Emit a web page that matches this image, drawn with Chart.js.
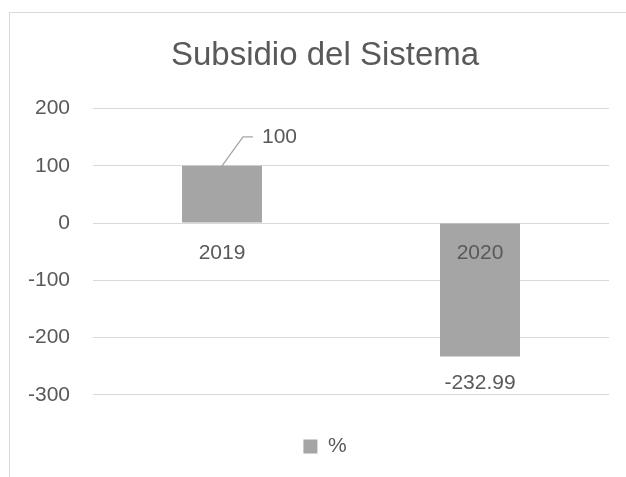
<!DOCTYPE html>
<html>
<head>
<meta charset="utf-8">
<script src="https://cdn.jsdelivr.net/npm/chart.js@4"></script>
<style>
  html, body { margin: 0; padding: 0; background: #ffffff; }
  #wrap { width: 626px; height: 477px; position: relative; }
</style>
</head>
<body>
<div id="wrap"><canvas id="c" width="626" height="477"></canvas></div>
<script>
const categories = ['2019', '2020'];
const seriesName = '%';
const values = [100, -232.99];
const valueLabels = ['100', '-232.99'];
const yMin = -300, yMax = 200, yStep = 100;

const FONT = "'Liberation Sans', Arial, sans-serif";
const TXT = '#595959';
const GRID = '#d9d9d9';
const BAR = '#a5a5a5';

const framePlugin = {
  id: 'frame',
  afterLayout(chart) {
    // the original chart frame extends beyond the visible crop on the right,
    // so its title and legend are centred a little to the right
    if (chart.titleBlock) chart.titleBlock.left += 31;
    if (chart.legend) chart.legend.left += 31;
  },
  beforeDraw(chart) {
    const ctx = chart.ctx;
    ctx.save();
    ctx.fillStyle = '#ffffff';
    ctx.fillRect(0, 0, chart.width, chart.height);
    ctx.strokeStyle = GRID;
    ctx.lineWidth = 1;
    ctx.strokeRect(9.5, 12.5, 800, 800);
    ctx.restore();
  }
};

const labelPlugin = {
  id: 'valueLabels',
  afterDatasetsDraw(chart) {
    const ctx = chart.ctx;
    const meta = chart.getDatasetMeta(0);
    ctx.save();
    ctx.font = '21px ' + FONT;
    ctx.fillStyle = TXT;
    ctx.textBaseline = 'middle';
    meta.data.forEach((bar, i) => {
      const v = values[i];
      const txt = valueLabels[i];
      if (v >= 0) {
        ctx.strokeStyle = '#a6a6a6';
        ctx.lineWidth = 1.3;
        ctx.beginPath();
        ctx.moveTo(bar.x, bar.y);
        ctx.lineTo(bar.x + 21, bar.y - 29);
        ctx.lineTo(bar.x + 31, bar.y - 29);
        ctx.stroke();
        ctx.textAlign = 'left';
        ctx.fillText(txt, bar.x + 40, bar.y - 29);
      } else {
        ctx.textAlign = 'center';
        ctx.fillText(txt, bar.x, bar.y + 27);
      }
    });
    ctx.restore();
  }
};

new Chart(document.getElementById('c'), {
  type: 'bar',
  data: {
    labels: categories,
    datasets: [{
      label: seriesName,
      data: values,
      backgroundColor: BAR,
      borderWidth: 0,
      barPercentage: 0.31,
      categoryPercentage: 1.0
    }]
  },
  options: {
    responsive: false,
    animation: false,
    devicePixelRatio: 1,
    layout: { padding: { top: 0, left: 10, right: 17, bottom: 10 } },
    plugins: {
      title: {
        display: true,
        text: 'Subsidio del Sistema',
        color: TXT,
        font: { family: FONT, size: 33, weight: 'normal' },
        padding: { top: 36, bottom: 33 }
      },
      legend: {
        display: true,
        position: 'bottom',
        title: { display: true, text: '', font: { size: 1 }, padding: { top: 30, bottom: 0 } },
        labels: {
          color: TXT,
          font: { family: FONT, size: 21 },
          boxWidth: 14,
          boxHeight: 14,
          padding: 10
        }
      },
      tooltip: { enabled: false }
    },
    scales: {
      x: {
        type: 'category',
        position: { y: 0 },
        grid: { display: false, drawTicks: false },
        border: { display: false },
        ticks: {
          z: 1,
          color: TXT,
          font: { family: FONT, size: 21 },
          padding: 18,
          maxRotation: 0
        }
      },
      y: {
        min: yMin,
        max: yMax,
        ticks: {
          stepSize: yStep,
          color: TXT,
          font: { family: FONT, size: 21 },
          padding: 23
        },
        grid: { color: GRID, lineWidth: 1, drawTicks: false },
        border: { display: false },
        afterFit(scale) { scale.width = 83; }
      }
    }
  },
  plugins: [framePlugin, labelPlugin]
});
</script>
</body>
</html>
